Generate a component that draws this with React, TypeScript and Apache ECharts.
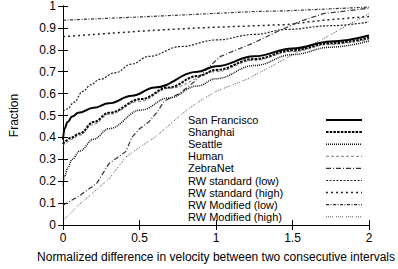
import React, { useEffect, useRef } from "react";
import * as echarts from "echarts";

const xTicks = [0, 0.5, 1, 1.5, 2];
const seriesNames = [
  "San Francisco",
  "Shanghai",
  "Seattle",
  "Human",
  "ZebraNet",
  "RW standard (low)",
  "RW standard (high)",
  "RW Modified (low)",
  "RW Modified (high)",
];

const sanFrancisco = [
  [0, 0.39], [0.01, 0.44], [0.03, 0.47], [0.06, 0.495], [0.1, 0.512], [0.2, 0.535], [0.3, 0.556],
  [0.45, 0.59], [0.6, 0.628], [0.88, 0.7], [1.0, 0.725], [1.25, 0.77], [1.5, 0.806], [1.75, 0.838], [2, 0.865],
];
const shanghai = [
  [0, 0.37], [0.02, 0.385], [0.05, 0.398], [0.11, 0.418], [0.2, 0.47], [0.3, 0.512], [0.51, 0.575],
  [0.69, 0.628], [0.88, 0.68], [1.0, 0.708], [1.25, 0.758], [1.5, 0.798], [1.75, 0.83], [2, 0.855],
];
const seattle = [
  [0, 0.18], [0.01, 0.22], [0.03, 0.26], [0.06, 0.3], [0.11, 0.338], [0.2, 0.392], [0.3, 0.44],
  [0.51, 0.525], [0.69, 0.58], [0.88, 0.635], [1.0, 0.668], [1.25, 0.728], [1.5, 0.778], [1.75, 0.812], [2, 0.84],
];
const human = [
  [0, 0.36], [0.02, 0.375], [0.05, 0.39], [0.11, 0.41], [0.2, 0.46], [0.3, 0.505], [0.5, 0.565],
  [0.7, 0.625], [1.0, 0.7], [1.25, 0.752], [1.5, 0.792], [1.75, 0.825], [2, 0.848],
];
const zebraNet = [
  [0, 0.09], [0.1, 0.13], [0.22, 0.19], [0.3, 0.28], [0.41, 0.335], [0.45, 0.4], [0.5, 0.44],
  [0.56, 0.47], [0.62, 0.52], [0.66, 0.565], [0.76, 0.6], [0.86, 0.655], [0.95, 0.72], [1.03, 0.77],
  [1.24, 0.83], [1.39, 0.88], [1.55, 0.93], [1.7, 0.965], [2, 0.99],
];
const rwStandardLow = [
  [0, 0.52], [0.03, 0.53], [0.07, 0.56], [0.13, 0.61], [0.18, 0.64], [0.24, 0.665], [0.34, 0.695],
  [0.45, 0.735], [0.56, 0.77], [0.77, 0.815], [1.0, 0.845], [1.25, 0.87], [1.46, 0.893], [1.75, 0.91], [2, 0.927],
];
const rwStandardHigh = [
  [0, 0.86], [0.5, 0.885], [0.88, 0.9], [1.46, 0.915], [1.7, 0.935], [2, 0.952],
];
const rwModifiedLow = [
  [0, 0.935], [0.5, 0.95], [0.81, 0.96], [1.26, 0.975], [1.46, 0.978], [2, 0.995],
];
const rwModifiedHigh = [
  [0, 0.02], [0.1, 0.09], [0.2, 0.15], [0.3, 0.21], [0.41, 0.31], [0.5, 0.355], [0.6, 0.4],
  [0.7, 0.46], [0.8, 0.52], [0.88, 0.56], [1.0, 0.61], [1.2, 0.665], [1.35, 0.72], [1.52, 0.785],
  [1.7, 0.85], [1.84, 0.905], [2, 0.965],
];

const allData = [
  sanFrancisco, shanghai, seattle, human, zebraNet,
  rwStandardLow, rwStandardHigh, rwModifiedLow, rwModifiedHigh,
];

const styles: { color: string; width: number; dash: number[] | "solid"; smooth: boolean }[] = [
  { color: "#000", width: 2, dash: "solid", smooth: true },
  { color: "#000", width: 2, dash: [2.5, 1.2], smooth: true },
  { color: "#111", width: 1.5, dash: [1, 1], smooth: true },
  { color: "#777", width: 1, dash: [3, 2], smooth: true },
  { color: "#333", width: 1.2, dash: [5, 2, 1, 2], smooth: false },
  { color: "#222", width: 1.2, dash: [2, 1.5], smooth: true },
  { color: "#222", width: 1.5, dash: [2, 3], smooth: false },
  { color: "#333", width: 1.2, dash: [3, 1.5, 1, 1.5], smooth: false },
  { color: "#555", width: 1, dash: [1, 1, 1, 1, 1, 1, 1, 3], smooth: false },
];

const FONT = "'Liberation Sans', Arial, Helvetica, sans-serif";

export default function App() {
  const ref = useRef<HTMLDivElement>(null);
  useEffect(() => {
    if (!ref.current) return;
    const chart = echarts.init(ref.current, undefined, { renderer: "svg" });
    const axisLine = { show: true, lineStyle: { color: "#000", width: 1 } };
    const legendGraphics: any[] = [];
    seriesNames.forEach((name, i) => {
      const y = 120 + 12.1 * i;
      legendGraphics.push({
        type: "text",
        x: 188,
        y: y,
        style: {
          text: name,
          fill: "#000",
          font: `11px ${FONT}`,
          lineHeight: 11,
          verticalAlign: "middle",
          align: "left",
        },
      });
      const st = styles[i];
      legendGraphics.push({
        type: "line",
        shape: { x1: 326, y1: y, x2: 362, y2: y },
        style: {
          stroke: st.color,
          lineWidth: st.width,
          lineDash: st.dash === "solid" ? null : st.dash,
        },
      });
    });
    chart.setOption({
      animation: false,
      grid: { left: 63, right: 23, top: 2, bottom: 44 },
      xAxis: [
        {
          type: "value",
          min: 0,
          max: 2,
          interval: 0.5,
          position: "bottom",
          axisLine,
          axisTick: { show: true, inside: true, length: 5, lineStyle: { color: "#000" } },
          axisLabel: { color: "#000", fontSize: 12, fontFamily: FONT, margin: 7, customValues: xTicks },
          splitLine: { show: false },
          name: "Normalized difference in velocity between two consecutive intervals",
          nameLocation: "middle",
          nameGap: 26,
          nameTextStyle: { color: "#000", fontSize: 12, fontFamily: FONT, verticalAlign: "top" },
        },
        {
          type: "value",
          min: 0,
          max: 2,
          interval: 0.5,
          position: "top",
          axisLine,
          axisTick: { show: true, inside: true, length: 5, lineStyle: { color: "#000" } },
          axisLabel: { show: false },
          splitLine: { show: false },
        },
      ],
      yAxis: [
        {
          type: "value",
          min: 0,
          max: 1,
          interval: 0.1,
          position: "left",
          axisLine,
          axisTick: { show: true, inside: true, length: 5, lineStyle: { color: "#000" } },
          axisLabel: { color: "#000", fontSize: 12, fontFamily: FONT, margin: 7 },
          splitLine: { show: false },
          name: "Fraction",
          nameLocation: "middle",
          nameGap: 43,
          nameRotate: 90,
          nameTextStyle: { color: "#000", fontSize: 12, fontFamily: FONT },
        },
        {
          type: "value",
          min: 0,
          max: 1,
          interval: 0.1,
          position: "right",
          axisLine,
          axisTick: { show: true, inside: true, length: 5, lineStyle: { color: "#000" } },
          axisLabel: { show: false },
          splitLine: { show: false },
        },
      ],
      series: seriesNames.map((name, i) => ({
        name,
        type: "line",
        xAxisIndex: 0,
        yAxisIndex: 0,
        data: allData[i],
        showSymbol: false,
        symbol: "none",
        smooth: styles[i].smooth ? 0.4 : false,
        smoothMonotone: "x",
        lineStyle: {
          color: styles[i].color,
          width: styles[i].width,
          type: styles[i].dash,
        },
        z: 10 - i,
      })),
      graphic: legendGraphics,
    });
    return () => chart.dispose();
  }, []);
  return <div ref={ref} style={{ width: 398, height: 269, position: "absolute", left: 0, top: 0, background: "#fff" }} />;
}
